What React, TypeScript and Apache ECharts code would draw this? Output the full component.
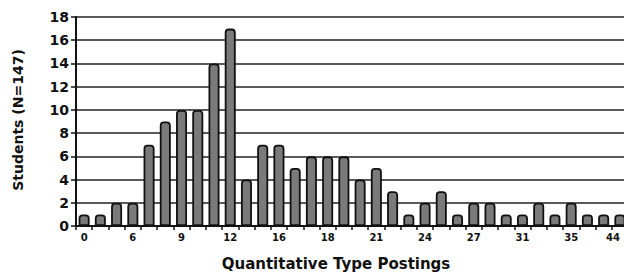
import React, { useEffect, useRef } from "react";
import * as echarts from "echarts";

// Number of postings (category) — only every third label is printed on the axis
const postings = [
  "0", "2", "4", "6", "7", "8", "9", "10", "11", "12",
  "13", "14", "16", "17", "17.5", "18", "19", "20", "21", "22",
  "23", "24", "25", "26", "27", "28", "29", "31", "32", "33",
  "35", "37", "40", "44",
];
// Number of students
const students = [
  1, 1, 2, 2, 7, 9, 10, 10, 14, 17,
  4, 7, 7, 5, 6, 6, 6, 4, 5, 3,
  1, 2, 3, 1, 2, 2, 1, 1, 2, 1,
  2, 1, 1, 1,
];
const yTicks = [0, 2, 4, 6, 8, 10, 12, 14, 16, 18];

const FONT = "'DejaVu Sans', 'Liberation Sans', Arial, sans-serif";

export default function App() {
  const ref = useRef<HTMLDivElement>(null);
  useEffect(() => {
    document.body.style.margin = "0";
    const chart = echarts.init(ref.current!, null, { renderer: "svg" });
    chart.setOption({
      animation: false,
      backgroundColor: "#ffffff",
      grid: { left: 76, top: 17, width: 552, height: 209, containLabel: false },
      xAxis: {
        type: "category",
        data: postings,
        boundaryGap: true,
        axisLine: { show: true, lineStyle: { color: "#111", width: 2 } },
        axisTick: { show: true, interval: 0, length: 4, lineStyle: { color: "#111", width: 1.5 } },
        axisLabel: {
          interval: 2,
          margin: 6,
          fontFamily: FONT,
          fontWeight: "bold",
          fontSize: 10,
          color: "#111",
          alignMaxLabel: "right",
        },
        splitLine: { show: false },
      },
      yAxis: {
        type: "value",
        min: yTicks[0],
        max: yTicks[yTicks.length - 1],
        interval: 2,
        axisLine: { show: true, lineStyle: { color: "#111", width: 2 } },
        axisTick: { show: true, length: 5, lineStyle: { color: "#111", width: 1.5 } },
        axisLabel: {
          margin: 7,
          fontFamily: FONT,
          fontWeight: "bold",
          fontSize: 14,
          color: "#111",
        },
        splitLine: { show: true, lineStyle: { color: "#222", width: 1.5 } },
      },
      series: [
        {
          type: "bar",
          data: students,
          barWidth: 11,
          itemStyle: {
            color: "#7a7a7a",
            borderColor: "#111",
            borderWidth: 1.8,
            borderRadius: [3, 3, 0, 0],
          },
        },
      ],
      graphic: [
        {
          type: "text",
          x: 336,
          y: 264,
          style: {
            text: "Quantitative Type Postings",
            fontFamily: FONT,
            fontWeight: "bold",
            fontSize: 15,
            fill: "#111",
            textAlign: "center",
            textVerticalAlign: "middle",
          },
        },
        {
          type: "text",
          x: 18,
          y: 120,
          rotation: Math.PI / 2,
          style: {
            text: "Students (N=147)",
            fontFamily: FONT,
            fontWeight: "bold",
            fontSize: 14,
            fill: "#111",
            textAlign: "center",
            textVerticalAlign: "middle",
          },
        },
      ],
    });
    return () => chart.dispose();
  }, []);
  return (
    <div style={{ position: "absolute", left: 0, top: 0, width: 624, height: 274, overflow: "hidden" }}>
      <div ref={ref} style={{ width: 640, height: 274 }} />
    </div>
  );
}
